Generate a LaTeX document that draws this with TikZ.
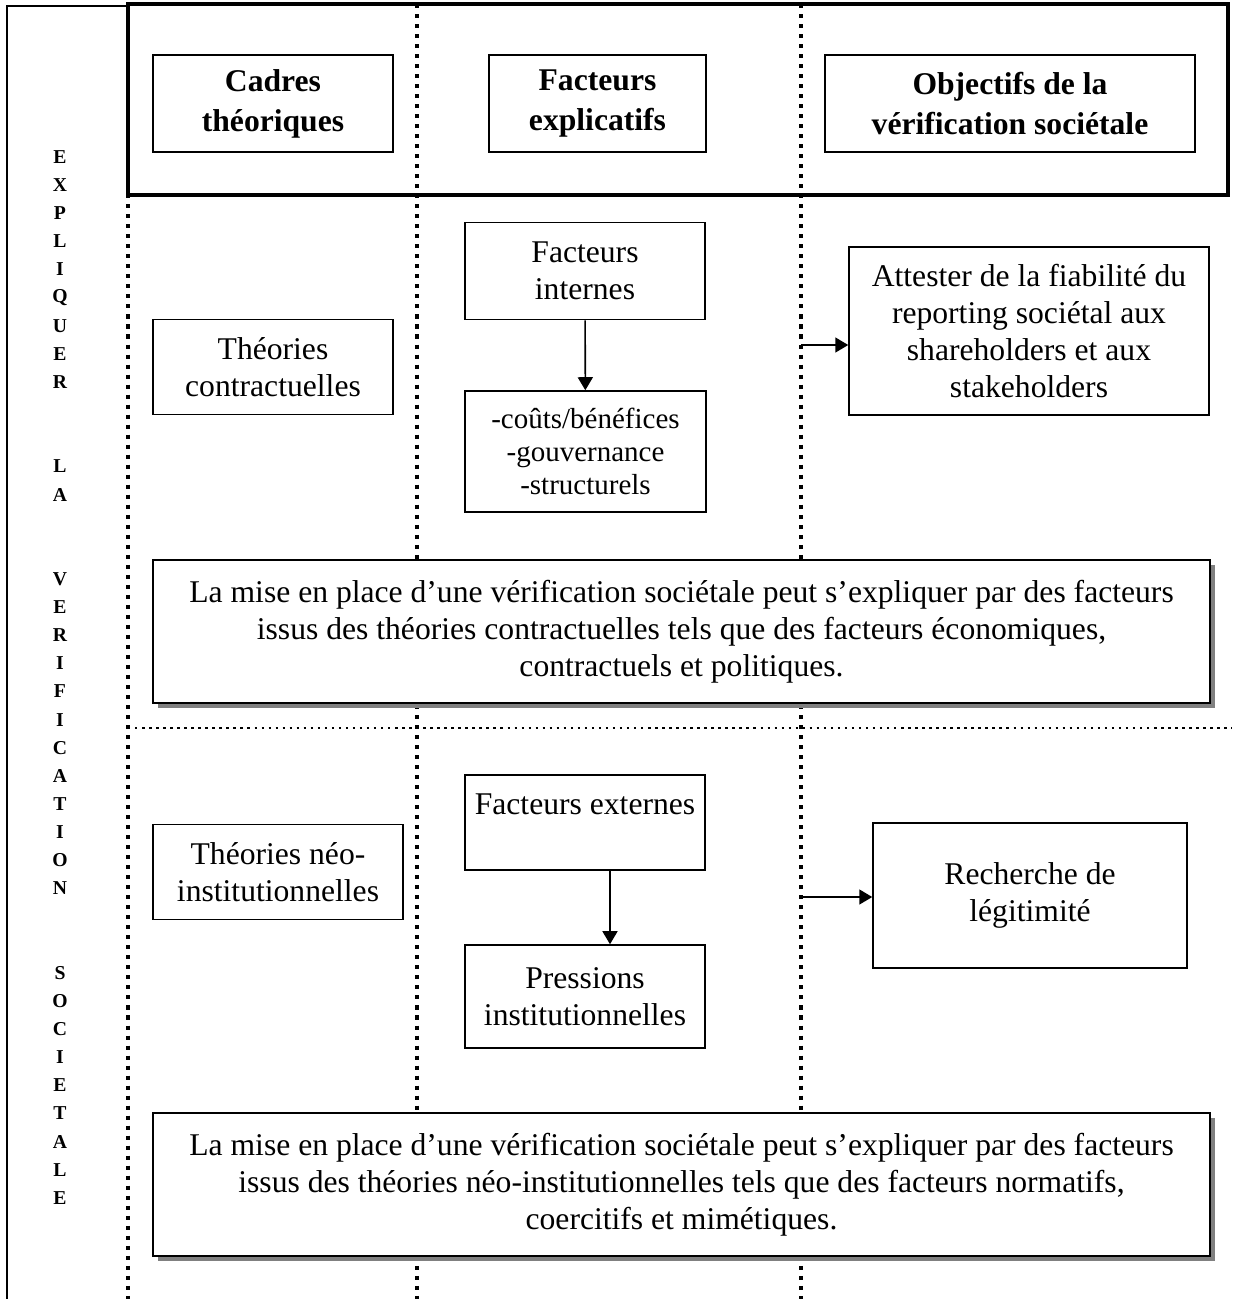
\documentclass[tikz,border=0pt]{standalone}
\usepackage{fontspec}
\setmainfont{Liberation Serif}
\usetikzlibrary{arrows.meta,shadows}

\tikzset{
  hbox/.style={draw, line width=0.9pt, align=center,
    font=\fontsize{18}{22.8}\selectfont\bfseries, minimum height=1.94cm},
  box/.style={draw, line width=0.9pt, align=center,
    font=\fontsize{18}{21}\selectfont},
  bigbox/.style={draw, line width=0.9pt, fill=white, align=center,
    font=\fontsize{18}{21}\selectfont, minimum width=21.14cm, minimum height=2.86cm,
    drop shadow={shadow xshift=0.1cm, shadow yshift=-0.1cm, fill=black!50, opacity=1}},
  colsep/.style={line width=2.3pt, dash pattern=on 2.3pt off 3.4pt},
  rowsep/.style={line width=1.4pt, dash pattern=on 1.4pt off 2.6pt},
  arr/.style={line width=0.9pt, -{Triangle[length=0.26cm, width=0.3cm]}},
  letter/.style={font=\fontsize{11.2}{16}\selectfont\bfseries, inner sep=0pt}
}

\begin{document}
\begin{tikzpicture}[x=0.02cm, y=-0.02cm]
  \useasboundingbox (0,0) rectangle (1232,1299);
  % Outer frame
  \draw[line width=1pt] (7,1299) -- (7,6) -- (128,6);
  % Column and row separators
  \foreach \cx in {128,417,801}
    \draw[colsep] (\cx,4) -- (\cx,1299);
  \draw[rowsep] (128,728) -- (1232,728);
  % Header
  \draw[line width=2.3pt] (128,4) rectangle (1228,195);
  \node[hbox, minimum width=4.8cm] (cadres) at (273,103.5) {Cadres\\théoriques};
  \node[hbox, minimum width=4.34cm] (facteurs) at (597.5,103.5) {Facteurs\\explicatifs};
  \node[hbox, minimum width=7.4cm] (objectifs) at (1010,103.5) {Objectifs de la\\vérification sociétale};
  % Vertical title
  \foreach \ch [count=\i from 0] in {E,X,P,L,I,Q,U,E,R,{},{},L,A,{},{},V,E,R,I,F,I,C,A,T,I,O,N,{},{},S,O,C,I,E,T,A,L,E}
    \node[letter] (v\i) at (60,157+28.13*\i) {\ch};
  % Contractual theories
  \node[box, minimum width=4.8cm, minimum height=1.9cm] (contrat) at (273,367) {Théories\\contractuelles};
  \node[box, minimum width=4.8cm, minimum height=1.94cm] (internes) at (585,271) {Facteurs\\internes};
  \node[box, minimum width=4.82cm, minimum height=2.42cm, font=\fontsize{16.5}{19}\selectfont] (couts) at (585.5,451.5) {-coûts/bénéfices\\-gouvernance\\-structurels};
  \node[box, minimum width=7.2cm, minimum height=3.36cm] (attester) at (1029,331) {Attester de la fiabilité du\\reporting sociétal aux\\shareholders et aux\\stakeholders};
  \coordinate (sep1) at (801,345);
  \draw[arr] (internes) -- (couts);
  \draw[arr] (sep1) -- (sep1 -| attester.west);
  \node[bigbox] (bilan1) at (681.5,631.5) {La mise en place d’une vérification sociétale peut s’expliquer par des facteurs\\issus des théories contractuelles tels que des facteurs économiques,\\contractuels et politiques.};
  % Neo-institutional theories
  \node[box, minimum width=5cm, minimum height=1.9cm] (neo) at (278,872) {Théories néo-\\institutionnelles};
  \node[box, minimum width=4.8cm, minimum height=1.9cm] (externes) at (585,822.5) {Facteurs externes\\~};
  \node[box, minimum width=4.8cm, minimum height=2.06cm] (pressions) at (585,996.5) {Pressions\\institutionnelles};
  \node[box, minimum width=6.28cm, minimum height=2.9cm] (recherche) at (1030,895.5) {Recherche de\\légitimité};
  \coordinate (sep2) at (801,897);
  \draw[arr] ([xshift=0.5cm]externes.south) -- ([xshift=0.5cm]pressions.north);
  \draw[arr] (sep2) -- (sep2 -| recherche.west);
  \node[bigbox] (bilan2) at (681.5,1184.5) {La mise en place d’une vérification sociétale peut s’expliquer par des facteurs\\issus des théories néo-institutionnelles tels que des facteurs normatifs,\\coercitifs et mimétiques.};
\end{tikzpicture}
\end{document}
